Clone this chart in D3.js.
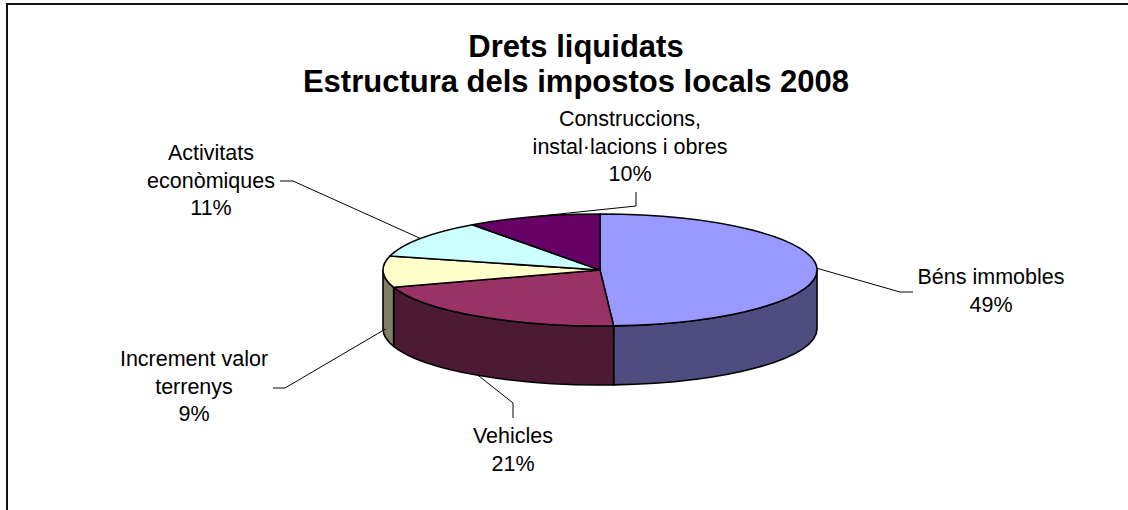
<!DOCTYPE html>
<html>
<head>
<meta charset="utf-8">
<script src="https://cdn.jsdelivr.net/npm/d3@7/dist/d3.min.js"></script>
<style>
  html, body { margin: 0; padding: 0; background: #fff; overflow: hidden; }
  svg { display: block; font-family: "Liberation Sans", Arial, sans-serif; }
  .title { font-weight: bold; font-size: 31px; fill: #000; }
  .lbl { font-size: 21.5px; fill: #000; }
  .leader { fill: none; stroke: #000; stroke-width: 1; }
  .face { stroke: #000; stroke-width: 1.6; stroke-linejoin: round; }
</style>
</head>
<body>
<svg id="chart" width="1128" height="510"></svg>
<script>
// --- data -------------------------------------------------------------------
const titleLines = ["Drets liquidats", "Estructura dels impostos locals 2008"];
const categories = [
  "Béns immobles",
  "Vehicles",
  "Increment valor terrenys",
  "Activitats econòmiques",
  "Construccions, instal·lacions i obres",
];
const values = [49, 21, 9, 11, 10];   // % of total
const labelLines = [
  ["Béns immobles"],
  ["Vehicles"],
  ["Increment valor", "terrenys"],
  ["Activitats", "econòmiques"],
  ["Construccions,", "instal·lacions i obres"],
];

// --- styles / layout ----------------------------------------------------------
const topColors  = ["#9999FF", "#993366", "#FFFFCC", "#CCFFFF", "#660066"];
const sideColors = ["#4D4D80", "#4D1A33", "#808066", "#668080", "#330033"];

const CX = 600, CY = 270, RX = 217, RY = 56, DEPTH = 59;

// label block: centre x, first baseline; leader: start angle / depth frac, elbow, end
const labelLayout = [
  { x: 991, y: 284, lead: { a: null, dz: 0,    elbow: [900, 292], end: [913, 292] } },
  { x: 513, y: 443, lead: { a: null, dz: 1,    elbow: [513, 403], end: [513, 418] } },
  { x: 194, y: 366, lead: { a: 261,  dz: 0.85, elbow: [285, 388], end: [273, 388] } },
  { x: 211, y: 160, lead: { a: null, dz: 0,    elbow: [293, 181], end: [280, 181] } },
  { x: 630, y: 126, lead: { a: null, dz: 0,    elbow: [636, 206], end: [636, 192] } },
];
const LINE_H = 27.5;

const svg = d3.select("#chart");

// frame (only top / left edges fall inside the picture)
svg.append("rect")
  .attr("x", 7).attr("y", 4).attr("width", 1140).attr("height", 530)
  .attr("fill", "none").attr("stroke", "#111").attr("stroke-width", 2);

// title
svg.append("text").attr("class", "title").attr("text-anchor", "middle")
  .selectAll("tspan").data(titleLines).join("tspan")
  .attr("x", 576).attr("y", (d, i) => 57 + i * 35)
  .text(d => d);

// --- 3D pie -----------------------------------------------------------------
const arcs = d3.pie().sort(null).value(d => d)(values);
const total = d3.sum(values);

const pt = (a, dz = 0) => [CX + RX * Math.sin(a), CY - RY * Math.cos(a) + dz];
const P = p => `${p[0].toFixed(2)},${p[1].toFixed(2)}`;

function topPath(d) {
  const large = d.endAngle - d.startAngle > Math.PI ? 1 : 0;
  return `M${CX},${CY}L${P(pt(d.startAngle))}A${RX},${RY} 0 ${large} 1 ${P(pt(d.endAngle))}Z`;
}

// only the front half of the rim (90°..270°) is visible
function sidePath(d) {
  const b0 = Math.max(d.startAngle, Math.PI / 2);
  const b1 = Math.min(d.endAngle, Math.PI * 1.5);
  if (b1 <= b0) return null;
  return `M${P(pt(b0))}A${RX},${RY} 0 0 1 ${P(pt(b1))}` +
         `L${P(pt(b1, DEPTH))}A${RX},${RY} 0 0 0 ${P(pt(b0, DEPTH))}Z`;
}

const gPie = svg.append("g");

gPie.selectAll("path.side")
  .data(arcs.filter(d => sidePath(d)))
  .join("path")
  .attr("class", "face side")
  .attr("fill", d => sideColors[d.index])
  .attr("d", sidePath);

gPie.selectAll("path.top")
  .data(arcs)
  .join("path")
  .attr("class", "face top")
  .attr("fill", d => topColors[d.index])
  .attr("d", topPath);

// --- labels + leader lines ----------------------------------------------------
const gLab = svg.append("g");

arcs.forEach((d, i) => {
  const lay = labelLayout[i];
  const mid = lay.lead.a != null ? lay.lead.a * Math.PI / 180 : (d.startAngle + d.endAngle) / 2;
  const start = pt(mid, lay.lead.dz * DEPTH);

  gLab.append("path")
    .attr("class", "leader")
    .attr("d", d3.line()([start, lay.lead.elbow, lay.lead.end]));

  const lines = labelLines[i].concat([`${Math.round(values[i] / total * 100)}%`]);
  gLab.append("text")
    .attr("class", "lbl")
    .attr("text-anchor", "middle")
    .selectAll("tspan").data(lines).join("tspan")
    .attr("x", lay.x)
    .attr("y", (t, k) => lay.y + k * LINE_H)
    .text(t => t);
});
</script>
</body>
</html>
